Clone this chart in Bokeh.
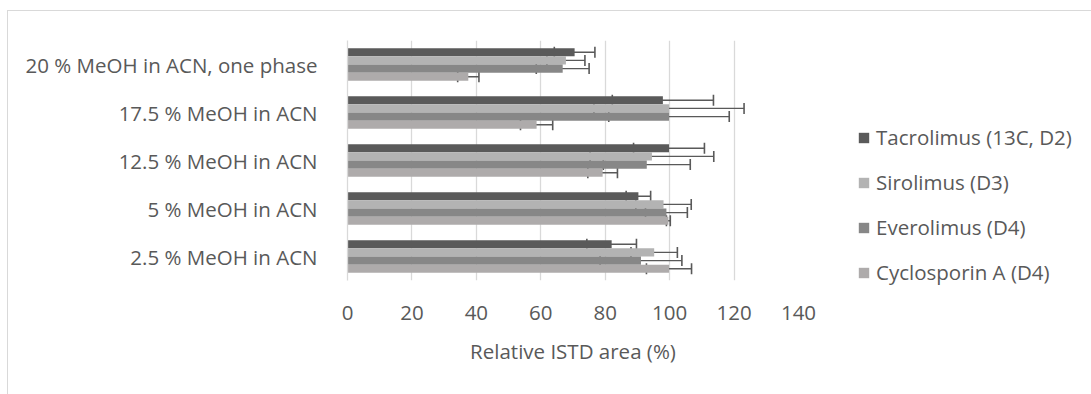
from bokeh.plotting import figure
from bokeh.models import (ColumnDataSource, Whisker, TeeHead, Legend, LegendItem,
                          FixedTicker)
from bokeh.transform import dodge
from bokeh.embed import file_html
from bokeh.resources import INLINE

# Solvent compositions (bottom to top on the chart)
conditions = ["2.5 % MeOH in ACN", "5 % MeOH in ACN", "12.5 % MeOH in ACN",
              "17.5 % MeOH in ACN", "20 % MeOH in ACN, one phase"]

series_names = ["Tacrolimus (13C, D2)", "Sirolimus (D3)", "Everolimus (D4)", "Cyclosporin A (D4)"]

# Relative ISTD area (%) per condition, same order as `conditions`
tacrolimus = [82.0, 90.3, 99.8, 97.9, 70.5]
sirolimus = [95.2, 98.1, 94.5, 99.8, 67.8]
everolimus = [91.1, 99.0, 92.9, 99.8, 66.8]
cyclosporin = [99.8, 99.6, 79.2, 58.7, 37.5]

# Standard deviations
tacrolimus_sd = [7.7, 3.8, 11.0, 15.7, 6.3]
sirolimus_sd = [7.2, 8.6, 19.2, 23.3, 5.9]
everolimus_sd = [12.7, 6.5, 13.5, 18.7, 8.2]
cyclosporin_sd = [7.0, 0.6, 4.6, 5.0, 3.3]

x_ticks = [0, 20, 40, 60, 80, 100, 120, 140]

colors = ["#5a5a5a", "#b3b3b3", "#878787", "#aeabab"]
text_color = "#595959"
grid_color = "#d9d9d9"
font = "Open Sans"

values = [tacrolimus, sirolimus, everolimus, cyclosporin]
sds = [tacrolimus_sd, sirolimus_sd, everolimus_sd, cyclosporin_sd]

BAR_H = 0.17
offsets = [1.5 * BAR_H, 0.5 * BAR_H, -0.5 * BAR_H, -1.5 * BAR_H]

p = figure(y_range=conditions, x_range=(0, 140),
           frame_width=451, frame_height=240,
           output_backend="svg", toolbar_location=None,
           min_border_left=339, min_border_right=294,
           min_border_top=29, min_border_bottom=115)
p.margin = (10, 0, 0, 7)
p.styles = {"border-left": "1px solid #d9d9d9", "border-top": "1px solid #d9d9d9"}
p.outline_line_color = None
p.background_fill_color = "white"
p.border_fill_color = "white"

items = []
for name, vals, err, col, off in zip(series_names, values, sds, colors, offsets):
    src = ColumnDataSource(dict(
        cond=conditions, val=vals,
        lower=[v - e for v, e in zip(vals, err)],
        upper=[v + e for v, e in zip(vals, err)],
    ))
    r = p.hbar(y=dodge("cond", off, range=p.y_range), right="val", left=0,
               height=BAR_H, source=src, fill_color=col, line_color=None)
    items.append(LegendItem(label=name, renderers=[r]))
    w = Whisker(base=dodge("cond", off, range=p.y_range), lower="lower", upper="upper",
                dimension="width", source=src, line_color="#595959", line_width=1.4,
                lower_head=TeeHead(size=11, line_color="#595959", line_width=1.6),
                upper_head=TeeHead(size=11, line_color="#595959", line_width=1.6))
    p.add_layout(w)

# axes
p.xaxis.ticker = FixedTicker(ticks=x_ticks)
p.xaxis.axis_line_color = None
p.xaxis.major_tick_line_color = None
p.xaxis.minor_tick_line_color = None
p.xaxis.major_label_text_font = font
p.xaxis.major_label_text_font_size = "20.5px"
p.xaxis.major_label_text_color = text_color
p.xaxis.major_label_standoff = 19
p.xaxis.axis_label = "Relative ISTD area (%)"
p.xaxis.axis_label_text_font = font
p.xaxis.axis_label_text_font_size = "20.5px"
p.xaxis.axis_label_text_font_style = "normal"
p.xaxis.axis_label_text_color = text_color
p.xaxis.axis_label_standoff = 14

p.yaxis.axis_line_color = grid_color
p.yaxis.axis_line_width = 1.3
p.yaxis.major_tick_line_color = None
p.yaxis.minor_tick_line_color = None
p.yaxis.major_label_text_font = font
p.yaxis.major_label_text_font_size = "20.5px"
p.yaxis.major_label_text_color = text_color
p.yaxis.major_label_standoff = 24

p.ygrid.grid_line_color = None
p.xgrid.grid_line_color = grid_color
p.xgrid.grid_line_width = 1.3

legend = Legend(items=items, location=(59, -6), orientation="vertical",
                glyph_width=13, glyph_height=13, label_standoff=6,
                spacing=17, padding=0, margin=0,
                label_text_font=font, label_text_font_size="20.5px",
                label_text_color=text_color,
                border_line_color=None, background_fill_alpha=0)
p.add_layout(legend, "right")

open("out.html", "w").write(file_html(p, INLINE))
